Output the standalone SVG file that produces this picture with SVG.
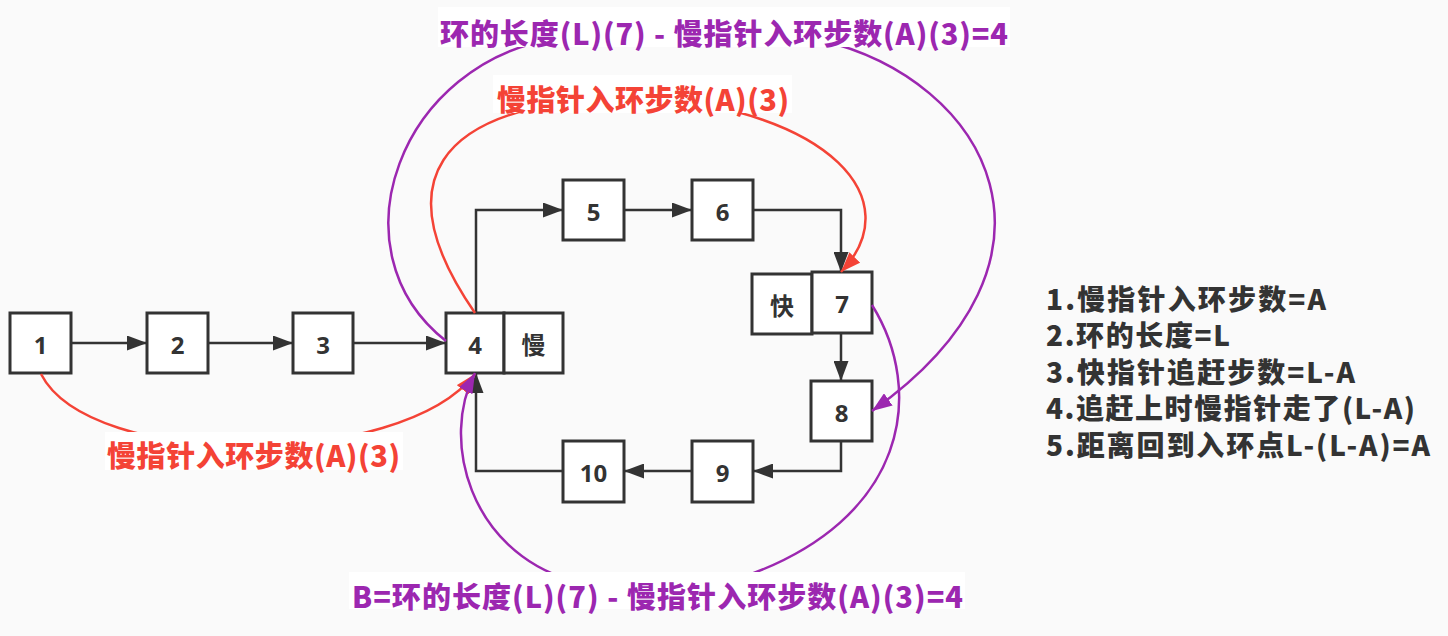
<svg xmlns="http://www.w3.org/2000/svg" width="1448" height="636" viewBox="0 0 1448 636">
<style>
.bg{fill:#fafafa}
.box{fill:#ffffff;stroke:#333333;stroke-width:3}
.nt{font-family:"Noto Sans","Noto Sans CJK SC",sans-serif;font-weight:bold;font-size:24px;fill:#333333;text-anchor:middle;dominant-baseline:central}
.ln{fill:none;stroke:#333333;stroke-width:2.5}
.red{fill:none;stroke:#f44336;stroke-width:2.5}
.pur{fill:none;stroke:#9c27b0;stroke-width:2.5}
.lbg{fill:#ffffff}
.lt{font-family:"Noto Sans CJK SC","Noto Sans",sans-serif;font-weight:900;font-size:29px;dominant-baseline:central}
.rt{fill:#f44336}
.pt{fill:#9c27b0}
.side{font-family:"Noto Sans CJK SC","Noto Sans",sans-serif;font-weight:900;font-size:28px;fill:#333333;dominant-baseline:central}
</style>
<defs>
<marker id="ab" markerUnits="userSpaceOnUse" markerWidth="20" markerHeight="15" refX="20" refY="7.5" orient="auto" viewBox="0 0 20 15"><path d="M0,0 L20,7.5 L0,15 z" fill="#333333"/></marker>
<marker id="ar" markerUnits="userSpaceOnUse" markerWidth="20" markerHeight="15" refX="20" refY="7.5" orient="auto" viewBox="0 0 20 15"><path d="M0,0 L20,7.5 L0,15 z" fill="#f44336"/></marker>
<marker id="ap" markerUnits="userSpaceOnUse" markerWidth="20" markerHeight="15" refX="20" refY="7.5" orient="auto" viewBox="0 0 20 15"><path d="M0,0 L20,7.5 L0,15 z" fill="#9c27b0"/></marker>
</defs>
<rect class="bg" x="0" y="0" width="1448" height="636"/>

<g id="node-1"><rect class="box" x="10" y="313" width="61" height="60"/><text class="nt" x="40.5" y="344">1</text></g>
<g id="node-2"><rect class="box" x="147" y="313" width="61" height="60"/><text class="nt" x="177.5" y="344">2</text></g>
<g id="node-3"><rect class="box" x="293" y="313" width="60" height="60"/><text class="nt" x="323" y="344">3</text></g>
<g id="node-4"><rect class="box" x="446" y="313" width="58" height="60"/><text class="nt" x="475" y="344">4</text></g>
<g id="node-slow"><rect class="box" x="504" y="313" width="59" height="60"/><text class="nt" x="533.5" y="344">慢</text></g>
<g id="node-5"><rect class="box" x="563" y="180" width="61" height="60"/><text class="nt" x="593.5" y="211">5</text></g>
<g id="node-6"><rect class="box" x="692" y="180" width="61" height="60"/><text class="nt" x="722.5" y="211">6</text></g>
<g id="node-fast"><rect class="box" x="752" y="274" width="60" height="60"/><text class="nt" x="782" y="305">快</text></g>
<g id="node-7"><rect class="box" x="812" y="272" width="60" height="61"/><text class="nt" x="842" y="303">7</text></g>
<g id="node-8"><rect class="box" x="811" y="381" width="61" height="60"/><text class="nt" x="841.5" y="412">8</text></g>
<g id="node-9"><rect class="box" x="692" y="441" width="61" height="61"/><text class="nt" x="722.5" y="472">9</text></g>
<g id="node-10"><rect class="box" x="563" y="441" width="61" height="61"/><text class="nt" x="593.5" y="472">10</text></g>

<g id="connectors">
<path class="ln" d="M71,343 H147" marker-end="url(#ab)"/>
<path class="ln" d="M208,343 H293" marker-end="url(#ab)"/>
<path class="ln" d="M353,343 H446" marker-end="url(#ab)"/>
<path class="ln" d="M476,313 V210 H563" marker-end="url(#ab)"/>
<path class="ln" d="M624,210 H692" marker-end="url(#ab)"/>
<path class="ln" d="M753,210 H841 V272" marker-end="url(#ab)"/>
<path class="ln" d="M841,333 V381" marker-end="url(#ab)"/>
<path class="ln" d="M841,441 V471 H753" marker-end="url(#ab)"/>
<path class="ln" d="M692,471 H624" marker-end="url(#ab)"/>
<path class="ln" d="M563,471 H476 V373" marker-end="url(#ab)"/>

<path class="red" d="M41,374 C90,470 400,470 475,374" marker-end="url(#ar)"/>
<path class="red" d="M475,313 C390,190 420,100 643,97 C830,110 910,200 841,272" marker-end="url(#ar)"/>
<path class="pur" d="M446,341 C330,250 400,60 560,38 L820,40 C990,80 1085,260 872,411" marker-end="url(#ap)"/>
<path class="pur" d="M872,305 C925,390 910,520 740,578 L570,580 C470,550 440,440 475,373" marker-end="url(#ap)"/>
</g>

<g id="label-red-bottom"><rect class="lbg" x="105" y="432" width="298" height="38"/><text class="lt rt" x="107" y="454" textLength="293">慢指针入环步数(A)(3)</text></g>
<g id="label-red-top"><rect class="lbg" x="493" y="75" width="299" height="38"/><text class="lt rt" x="497" y="97.5" textLength="292">慢指针入环步数(A)(3)</text></g>
<g id="label-purple-top"><rect class="lbg" x="438" y="7" width="572" height="40"/><text class="lt pt" x="440" y="31.5" textLength="568">环的长度(L)(7) - 慢指针入环步数(A)(3)=4</text></g>
<g id="label-purple-bottom"><rect class="lbg" x="349" y="572" width="616" height="37"/><text class="lt pt" x="352" y="595" textLength="611">B=环的长度(L)(7) - 慢指针入环步数(A)(3)=4</text></g>

<g id="notes">
<text class="side" x="1046" y="297.5" textLength="280">1.慢指针入环步数=A</text>
<text class="side" x="1046" y="334" textLength="184">2.环的长度=L</text>
<text class="side" x="1046" y="370.5" textLength="309">3.快指针追赶步数=L-A</text>
<text class="side" x="1046" y="407" textLength="369">4.追赶上时慢指针走了(L-A)</text>
<text class="side" x="1046" y="443.5" textLength="384">5.距离回到入环点L-(L-A)=A</text>
</g>
</svg>
